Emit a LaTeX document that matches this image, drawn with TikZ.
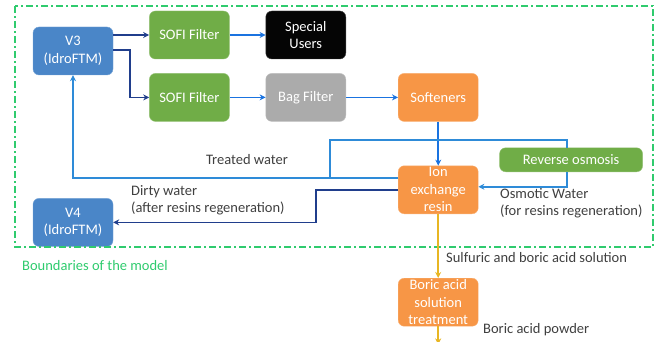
\documentclass[tikz,border=0pt]{standalone}
\usepackage{fontspec}
\setmainfont{Carlito}
\usepackage{tikz}
\usetikzlibrary{arrows.meta, positioning}

\definecolor{boxblue}{HTML}{4A86C8}
\definecolor{boxgreen}{HTML}{70AD47}
\definecolor{boxorange}{HTML}{F79646}
\definecolor{boxgray}{HTML}{ABABAB}
\definecolor{boxblack}{HTML}{050505}
\definecolor{darkline}{HTML}{203E8C}
\definecolor{midline}{HTML}{1A73E0}
\definecolor{lightline}{HTML}{2E8BD8}
\definecolor{goldline}{HTML}{E8B623}
\definecolor{boundgreen}{HTML}{2FCB6E}
\definecolor{labelgray}{HTML}{3F3F3F}

\begin{document}
\begin{tikzpicture}[
    x=1pt, y=1pt,
    node distance=36pt,
    box/.style={draw=#1!75!white, fill=#1, rectangle, rounded corners=6pt, minimum width=80pt, minimum height=48pt, align=center, text=white, inner sep=1pt, font=\fontsize{14.5}{17.6}\selectfont},
    lbl/.style={text=labelgray, align=left, inner sep=0pt, font=\fontsize{14.5}{17.6}\selectfont},
    arrow/.style={-{Stealth[length=6pt,width=6pt]}, line width=1.6pt}
]
\useasboundingbox (0,0) rectangle (661,-342);

\node[box=boxblue] (v3) at (73,-51) {V3\\(IdroFTM)};
\node[box=boxgreen, right=36pt of v3, yshift=16pt] (sofiA) {SOFI Filter};
\node[box=boxblack, right=36pt of sofiA] (users) {Special\\Users};
\node[box=boxgreen, below=14pt of sofiA] (sofiB) {SOFI Filter};
\node[box=boxgray, right=36pt of sofiB] (bag) {Bag Filter};
\node[box=boxorange, right=52pt of bag] (soft) {Softeners};
\node[box=boxorange, below=44pt of soft] (ion) {Ion\\exchange\\resin};
\node[box=boxgreen, minimum width=143pt, minimum height=24pt, right=21pt of ion, yshift=30pt] (ro) {Reverse osmosis};
\node[box=boxblue, below=123pt of v3] (v4) {V4\\(IdroFTM)};
\node[box=boxorange, below=64pt of ion] (boric) {Boric acid\\solution\\treatment};

\draw[draw=boundgreen, line width=1.6pt, dash pattern=on 7pt off 3pt on 2pt off 3pt] (15,-6) rectangle (653,-247);
\node[lbl, text=boundgreen, anchor=west] (bound) at (22,-266) {Boundaries of the model};

\draw[arrow, darkline] (v3.east |- sofiA.west) -- (sofiA.west);
\draw[arrow, darkline] ([yshift=1pt]v3.east) -- ++(17pt,0) |- (sofiB.west);
\draw[arrow, midline] (sofiA) -- (users);
\draw[arrow, midline] (sofiB) -- (bag);
\draw[arrow, midline] (bag) -- (soft);
\draw[arrow, midline] (soft) -- (ion);

\coordinate (tw) at ([xshift=-68pt,yshift=12pt]ion.west);
\draw[arrow, lightline] ([yshift=12pt]ion.west) -| (v3.south);
\draw[lightline, line width=1.6pt] (tw) -- ++(0,38pt) -| ([xshift=-4pt]ro.north);
\draw[arrow, lightline] ([xshift=-4pt]ro.south) |- ([yshift=3pt]ion.east);
\draw[arrow, darkline] (ion.west) -- ++(-82pt,0) |- (v4.east);

\coordinate[below=18pt of boric] (out);
\draw[arrow, goldline] (ion) -- (boric);
\draw[arrow, goldline] (boric) -- (out);

\node[lbl] (twlbl) at (247,-160) {Treated water};
\node[lbl, anchor=north west] (dirty) at (131,-185) {Dirty water\\(after resins regeneration)};
\node[lbl, anchor=north west] (osm) at (500,-188) {Osmotic Water\\(for resins regeneration)};
\node[lbl, anchor=west] (sulf) at (446,-258) {Sulfuric and boric acid solution};
\node[lbl, anchor=west] (powder) at (483,-330) {Boric acid powder};

\end{tikzpicture}
\end{document}
